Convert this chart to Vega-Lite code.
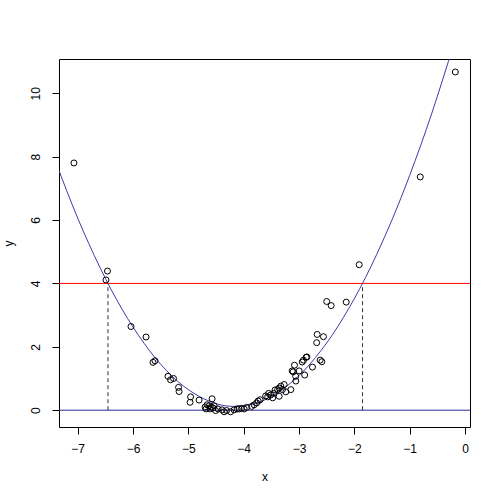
{
  "$schema": "https://vega.github.io/schema/vega-lite/v6.json",
  "width": 411,
  "height": 368,
  "autosize": {"type": "none"},
  "padding": {"left": 59, "top": 59, "right": 30, "bottom": 73},
  "background": "white",
  "config": {
    "view": {"stroke": "#000", "strokeWidth": 1},
    "font": "Liberation Sans",
    "axis": {
      "grid": false,
      "domain": false,
      "tickSize": 7,
      "tickColor": "#000",
      "tickWidth": 1,
      "labelFontSize": 12,
      "labelColor": "#000",
      "labelFont": "Liberation Sans",
      "titleFont": "Liberation Sans",
      "titleFontSize": 12,
      "titleFontWeight": "normal",
      "titleColor": "#000"
    }
  },
  "datasets": {
    "points": [
      {"x": -7.068, "y": 7.80}, {"x": -0.175, "y": 10.67}, {"x": -0.809, "y": 7.36},
      {"x": -6.462, "y": 4.39}, {"x": -6.489, "y": 4.11}, {"x": -6.037, "y": 2.64},
      {"x": -5.765, "y": 2.31}, {"x": -5.639, "y": 1.51}, {"x": -5.603, "y": 1.56},
      {"x": -5.368, "y": 1.07}, {"x": -5.322, "y": 0.96}, {"x": -5.268, "y": 1.00},
      {"x": -5.177, "y": 0.72}, {"x": -5.168, "y": 0.59}, {"x": -4.960, "y": 0.42},
      {"x": -4.969, "y": 0.25}, {"x": -4.806, "y": 0.32}, {"x": -4.571, "y": 0.36},
      {"x": -4.698, "y": 0.10}, {"x": -4.662, "y": 0.17}, {"x": -4.626, "y": 0.14},
      {"x": -4.589, "y": 0.10}, {"x": -4.553, "y": 0.07}, {"x": -4.508, "y": -0.01},
      {"x": -4.463, "y": 0.04}, {"x": -4.390, "y": 0.01}, {"x": -4.354, "y": -0.05},
      {"x": -4.309, "y": -0.01}, {"x": -4.237, "y": -0.05}, {"x": -4.173, "y": 0.01},
      {"x": -4.119, "y": 0.04}, {"x": -4.083, "y": 0.04}, {"x": -4.038, "y": 0.06},
      {"x": -3.992, "y": 0.04}, {"x": -3.947, "y": 0.09}, {"x": -3.857, "y": 0.12},
      {"x": -3.812, "y": 0.17}, {"x": -3.766, "y": 0.23}, {"x": -3.739, "y": 0.29},
      {"x": -3.703, "y": 0.33}, {"x": -3.603, "y": 0.45}, {"x": -3.567, "y": 0.42},
      {"x": -3.549, "y": 0.53}, {"x": -3.513, "y": 0.48}, {"x": -3.477, "y": 0.39},
      {"x": -3.459, "y": 0.53}, {"x": -3.432, "y": 0.64}, {"x": -3.386, "y": 0.65},
      {"x": -3.359, "y": 0.70}, {"x": -3.359, "y": 0.44}, {"x": -3.329, "y": 0.76},
      {"x": -3.300, "y": 0.65}, {"x": -3.269, "y": 0.81}, {"x": -3.238, "y": 0.58},
      {"x": -3.148, "y": 0.65}, {"x": -3.124, "y": 1.24}, {"x": -3.106, "y": 1.21},
      {"x": -3.082, "y": 1.42}, {"x": -3.061, "y": 1.07}, {"x": -3.057, "y": 0.92},
      {"x": -2.997, "y": 1.24}, {"x": -2.943, "y": 1.52}, {"x": -2.920, "y": 1.58},
      {"x": -2.871, "y": 1.67}, {"x": -2.858, "y": 1.68}, {"x": -2.898, "y": 1.11},
      {"x": -2.757, "y": 1.36}, {"x": -2.618, "y": 1.58}, {"x": -2.587, "y": 1.53},
      {"x": -2.681, "y": 2.13}, {"x": -2.672, "y": 2.39}, {"x": -2.558, "y": 2.32},
      {"x": -2.500, "y": 3.43}, {"x": -2.419, "y": 3.30}, {"x": -2.147, "y": 3.41},
      {"x": -1.912, "y": 4.59}, {"x": -4.680, "y": 0.04}, {"x": -4.607, "y": 0.04},
      {"x": -4.535, "y": 0.14}
    ],
    "curve": [
      {"x": -7.4, "y": 7.85}, {"x": -7.2, "y": 6.93}, {"x": -7.0, "y": 6.06},
      {"x": -6.8, "y": 5.26}, {"x": -6.6, "y": 4.51}, {"x": -6.4, "y": 3.82},
      {"x": -6.2, "y": 3.19}, {"x": -6.0, "y": 2.62}, {"x": -5.8, "y": 2.11},
      {"x": -5.6, "y": 1.65}, {"x": -5.4, "y": 1.26}, {"x": -5.2, "y": 0.92},
      {"x": -5.0, "y": 0.65}, {"x": -4.8, "y": 0.43}, {"x": -4.6, "y": 0.27},
      {"x": -4.4, "y": 0.16}, {"x": -4.2, "y": 0.12}, {"x": -4.0, "y": 0.14},
      {"x": -3.8, "y": 0.21}, {"x": -3.6, "y": 0.34}, {"x": -3.4, "y": 0.54},
      {"x": -3.2, "y": 0.79}, {"x": -3.0, "y": 1.09}, {"x": -2.8, "y": 1.46},
      {"x": -2.6, "y": 1.89}, {"x": -2.4, "y": 2.37}, {"x": -2.2, "y": 2.92},
      {"x": -2.0, "y": 3.52}, {"x": -1.8, "y": 4.18}, {"x": -1.6, "y": 4.90},
      {"x": -1.4, "y": 5.68}, {"x": -1.2, "y": 6.51}, {"x": -1.0, "y": 7.41},
      {"x": -0.8, "y": 8.36}, {"x": -0.6, "y": 9.37}, {"x": -0.4, "y": 10.45},
      {"x": -0.2, "y": 11.57}, {"x": 0.0, "y": 12.76}
    ],
    "vlines": [
      {"x": -6.453, "y0": 0, "y1": 4},
      {"x": -1.852, "y0": 0, "y1": 4}
    ]
  },
  "layer": [
    {
      "data": {"name": "vlines"},
      "mark": {"type": "rule", "color": "#333333", "strokeWidth": 1, "strokeDash": [4, 3]},
      "encoding": {
        "x": {"field": "x", "type": "quantitative",
              "scale": {"domain": [-7.338, 0.09], "nice": false, "zero": false},
              "axis": {"values": [-7, -6, -5, -4, -3, -2, -1, 0], "format": "d", "title": "x", "labelPadding": 9, "titlePadding": 17, "labelFlush": false}},
        "y": {"field": "y0", "type": "quantitative",
              "scale": {"domain": [-0.53, 11.08], "nice": false, "zero": false},
              "axis": {"values": [0, 2, 4, 6, 8, 10], "format": "d", "title": "y", "labelAngle": -90, "labelAlign": "center", "labelBaseline": "bottom", "labelPadding": 10, "titlePadding": 14, "labelFlush": false}},
        "y2": {"field": "y1"}
      }
    },
    {
      "data": {"values": [{"y": 4}]},
      "mark": {"type": "rule", "color": "#ff0000", "strokeWidth": 1},
      "encoding": {"y": {"field": "y", "type": "quantitative"}}
    },
    {
      "data": {"values": [{"y": 0}]},
      "mark": {"type": "rule", "color": "#2b2b99", "strokeWidth": 1},
      "encoding": {"y": {"field": "y", "type": "quantitative"}}
    },
    {
      "data": {"name": "curve"},
      "mark": {"type": "line", "color": "#3b3baa", "strokeWidth": 1, "clip": true, "interpolate": "monotone"},
      "encoding": {
        "x": {"field": "x", "type": "quantitative"},
        "y": {"field": "y", "type": "quantitative"}
      }
    },
    {
      "data": {"name": "points"},
      "mark": {"type": "point", "shape": "circle", "filled": false, "color": "#000", "strokeWidth": 1, "size": 36, "opacity": 1},
      "encoding": {
        "x": {"field": "x", "type": "quantitative"},
        "y": {"field": "y", "type": "quantitative"}
      }
    }
  ]
}
